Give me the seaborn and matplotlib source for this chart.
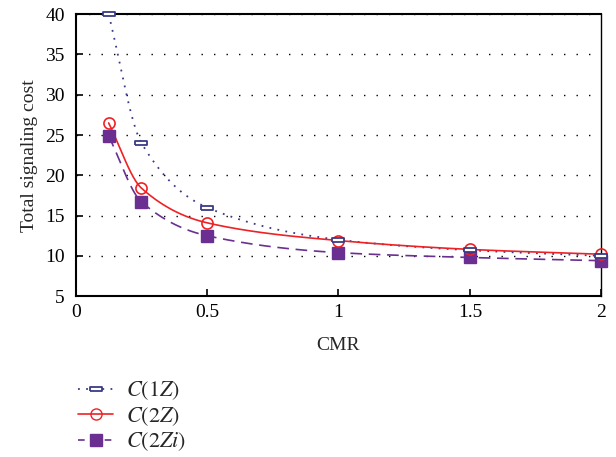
import numpy as np
import pandas as pd
import matplotlib
matplotlib.use("Agg")
import matplotlib.pyplot as plt
from matplotlib.lines import Line2D
import seaborn as sns

# ---------------------------------------------------------------------------
# Data
# ---------------------------------------------------------------------------
cmr = [0.125, 0.25, 0.5, 1.0, 1.5, 2.0]
cost_1z = [40.0, 24.0, 16.0, 12.0, 10.7, 10.0]
cost_2z = [26.5, 18.4, 14.1, 11.9, 10.8, 10.2]
cost_2zi = [24.9, 16.7, 12.5, 10.4, 9.8, 9.4]

series_labels = [r"$C(1Z)$", r"$C(2Z)$", r"$C(2Zi)$"]
x_ticks = [0, 0.5, 1, 1.5, 2]
x_tick_labels = ["0", "0.5", "1", "1.5", "2"]
y_ticks = [5, 10, 15, 20, 25, 30, 35, 40]


def _smooth(x, y, n=200):
    """Monotone cubic (Fritsch-Carlson) curve through the points, for drawing."""
    x = np.asarray(x, float)
    y = np.asarray(y, float)
    h = np.diff(x)
    d = np.diff(y) / h
    m = np.zeros_like(y)
    m[0], m[-1] = d[0], d[-1]
    for i in range(1, len(y) - 1):
        if d[i - 1] * d[i] <= 0:
            m[i] = 0.0
        else:
            w1 = 2 * h[i] + h[i - 1]
            w2 = h[i] + 2 * h[i - 1]
            m[i] = (w1 + w2) / (w1 / d[i - 1] + w2 / d[i])
    xs = np.linspace(x[0], x[-1], n)
    idx = np.clip(np.searchsorted(x, xs) - 1, 0, len(x) - 2)
    t = (xs - x[idx]) / h[idx]
    h00 = 2 * t**3 - 3 * t**2 + 1
    h10 = t**3 - 2 * t**2 + t
    h01 = -2 * t**3 + 3 * t**2
    h11 = t**3 - t**2
    ys = (h00 * y[idx] + h10 * h[idx] * m[idx]
          + h01 * y[idx + 1] + h11 * h[idx] * m[idx + 1])
    return xs, ys


sns.set_theme(style="ticks")
plt.rcParams["font.family"] = ["Liberation Serif", "DejaVu Serif"]
plt.rcParams["mathtext.fontset"] = "stix"

fig = plt.figure(figsize=(6.16, 4.57), dpi=100)
ax = fig.add_axes([0.123, 0.352, 0.853, 0.617])

c1 = "#3a3a86"
c2 = "#ee2226"
c3 = "#6a2f90"

styles = [
    (cost_1z, c1, (0, (1, 3.5)), 1.3),
    (cost_2z, c2, "-", 1.2),
    (cost_2zi, c3, (0, (7, 4)), 1.2),
]
for vals, col, ls, lw in styles:
    xs, ys = _smooth(cmr, vals)
    sns.lineplot(x=xs, y=ys, ax=ax, color=col, linestyle=ls, linewidth=lw,
                 estimator=None, sort=False, clip_on=False)

# markers
rect = [(-3, -1), (3, -1), (3, 1), (-3, 1), (-3, -1)]
ax.plot(cmr, cost_1z, linestyle="none", marker=rect, markersize=9,
        markerfacecolor="white", markeredgecolor=c1, markeredgewidth=1.3,
        clip_on=False, zorder=5)
ax.plot(cmr, cost_2z, linestyle="none", marker="o", markersize=8,
        markerfacecolor="none", markeredgecolor=c2, markeredgewidth=1.2,
        clip_on=False, zorder=4)
ax.plot(cmr, cost_2zi, linestyle="none", marker="s", markersize=9,
        markerfacecolor=c3, markeredgecolor=c3, clip_on=False, zorder=3)

ax.set_xlim(0, 2)
ax.set_ylim(5, 40)
ax.set_xticks(x_ticks)
ax.set_xticklabels(x_tick_labels)
ax.set_yticks(y_ticks)
ax.tick_params(direction="in", length=5, width=1.2, labelsize=14,
               colors="black", top=False, right=False)
ax.tick_params(axis="x", pad=5.5)
ax.tick_params(axis="y", pad=8)
ax.yaxis.grid(True, linestyle=(0, (1, 8)), color="black", linewidth=1.0)
ax.xaxis.grid(False)
for sp in ax.spines.values():
    sp.set_visible(True)
    sp.set_color("black")
    sp.set_linewidth(1.5)
ax.spines["right"].set_linewidth(1.0)

ax.set_xlabel("CMR", fontsize=14, labelpad=12)
ax.set_ylabel("Total signaling cost", fontsize=14, labelpad=5)

handles = [
    Line2D([], [], color=c1, linestyle=(0, (1, 3.5)), linewidth=1.3,
           marker=rect, markersize=9, markerfacecolor="white",
           markeredgecolor=c1, markeredgewidth=1.3),
    Line2D([], [], color=c2, linestyle="-", linewidth=1.2, marker="o",
           markersize=8, markerfacecolor="none", markeredgecolor=c2),
    Line2D([], [], color=c3, linestyle=(0, (4, 4)), linewidth=1.2,
           marker="s", markersize=9, markerfacecolor=c3,
           markeredgecolor=c3),
]
fig.legend(handles, series_labels, loc="upper left",
           bbox_to_anchor=(0.101, 0.203), frameon=False, fontsize=16,
           handlelength=1.6, labelspacing=0.12, handletextpad=0.55,
           borderaxespad=0.3)

fig.savefig("out.png", dpi=100)
